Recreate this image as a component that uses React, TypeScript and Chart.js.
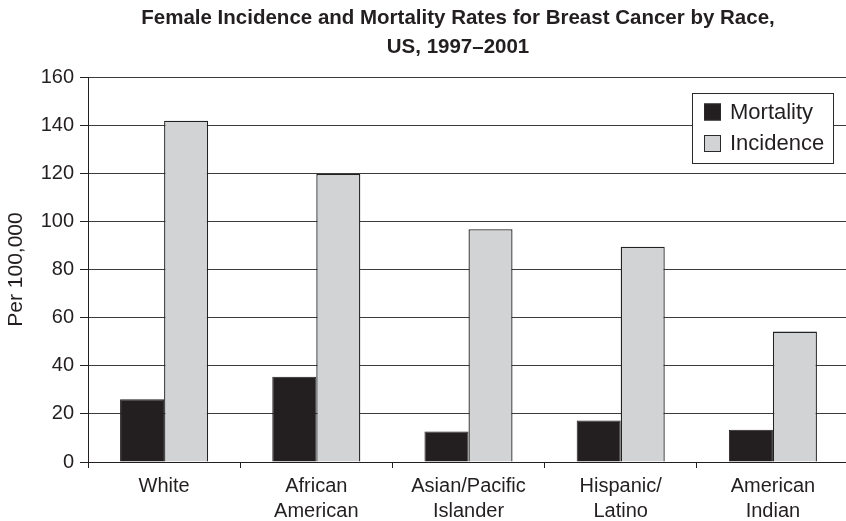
import React, { useEffect, useRef } from "react";
import { Chart, registerables } from "chart.js";

Chart.register(...registerables);

const categories: (string | string[])[] = [
  "White",
  ["African", "American"],
  ["Asian/Pacific", "Islander"],
  ["Hispanic/", "Latino"],
  ["American", "Indian"],
];
const mortality = [26.1, 35.4, 12.7, 17.2, 13.4];
const incidence = [141.8, 119.7, 96.7, 89.5, 54.2];
const seriesNames = ["Mortality", "Incidence"];
const seriesColors = ["#231f20", "#d1d3d4"];
const yMin = 0;
const yMax = 160;
const yStep = 20;
const titleLines = [
  "Female Incidence and Mortality Rates for Breast Cancer by Race,",
  "US, 1997–2001",
];
const yTitle = "Per 100,000";

const FAMILY = "'Liberation Sans', Arial, Helvetica, sans-serif";
const INK = "#231f20";

const decorPlugin = {
  id: "decor",
  afterDraw(chart: any) {
    const ctx = chart.ctx as CanvasRenderingContext2D;
    const area = chart.chartArea;
    ctx.save();
    // title
    ctx.fillStyle = INK;
    ctx.font = `bold 20.5px ${FAMILY}`;
    ctx.textAlign = "center";
    ctx.textBaseline = "middle";
    titleLines.forEach((t, i) => ctx.fillText(t, 458, 18.5 + i * 29));

    // y-axis title
    ctx.save();
    ctx.translate(16, (area.top + area.bottom) / 2);
    ctx.rotate(-Math.PI / 2);
    ctx.font = `21px ${FAMILY}`;
    ctx.textAlign = "center";
    ctx.textBaseline = "middle";
    ctx.fillText(yTitle, 0, 0);
    ctx.restore();

    // legend
    const bx = 692.5, by = 93.5, bw = 141, bh = 70;
    ctx.fillStyle = "#ffffff";
    ctx.fillRect(bx, by, bw, bh);
    ctx.strokeStyle = "#2a2a2a";
    ctx.lineWidth = 1;
    ctx.strokeRect(bx, by, bw, bh);
    ctx.font = `22px ${FAMILY}`;
    ctx.textAlign = "left";
    ctx.textBaseline = "middle";
    seriesNames.forEach((name, i) => {
      const sy = 103.5 + i * 31.5;
      ctx.fillStyle = seriesColors[i];
      ctx.fillRect(704, sy, 17, 17);
      ctx.strokeStyle = "#2a2a2a";
      ctx.strokeRect(704.5, sy + 0.5, 16, 16);
      ctx.fillStyle = INK;
      ctx.fillText(name, 730, sy + 9);
    });
    ctx.restore();
  },
};

export default function App() {
  const ref = useRef<HTMLCanvasElement | null>(null);

  useEffect(() => {
    document.body.style.margin = "0";
    document.body.style.overflow = "hidden";
    const canvas = ref.current;
    if (!canvas) return;
    const chart = new Chart(canvas, {
      type: "bar",
      data: {
        labels: categories as any,
        datasets: [
          {
            label: seriesNames[0],
            data: mortality,
            backgroundColor: seriesColors[0],
            borderColor: INK,
            borderWidth: 1,
          },
          {
            label: seriesNames[1],
            data: incidence,
            backgroundColor: seriesColors[1],
            borderColor: "#222222",
            borderWidth: 1.3,
          },
        ],
      },
      options: {
        responsive: false,
        animation: false,
        devicePixelRatio: 1,
        layout: { padding: { top: 77, right: 0, bottom: 0, left: 0 } },
        datasets: {
          bar: { categoryPercentage: 0.5786, barPercentage: 1 },
        },
        plugins: {
          legend: { display: false },
          title: { display: false },
          tooltip: { enabled: false },
        },
        scales: {
          x: {
            grid: {
              display: true,
              drawOnChartArea: false,
              drawTicks: true,
              tickLength: 6,
              offset: true,
              color: INK,
              tickColor: INK,
            },
            border: { display: true, color: INK, width: 1 },
            ticks: {
              color: INK,
              font: { family: FAMILY, size: 20, lineHeight: 1.25 },
              padding: 6,
              maxRotation: 0,
              autoSkip: false,
            },
            afterFit: (s: any) => {
              s.height = 59;
            },
          },
          y: {
            min: yMin,
            max: yMax,
            ticks: {
              stepSize: yStep,
              color: INK,
              font: { family: FAMILY, size: 20 },
              padding: 6,
            },
            grid: {
              color: "#3c3c3c",
              tickColor: INK,
              tickLength: 8,
              lineWidth: 1,
            },
            border: { display: true, color: INK, width: 1 },
            afterFit: (s: any) => {
              s.width = 88;
            },
          },
        },
      },
      plugins: [decorPlugin],
    });
    return () => chart.destroy();
  }, []);

  return (
    <div style={{ width: 846, height: 521, overflow: "hidden", background: "#fff" }}>
      <canvas ref={ref} width={849} height={521} style={{ display: "block" }} />
    </div>
  );
}
